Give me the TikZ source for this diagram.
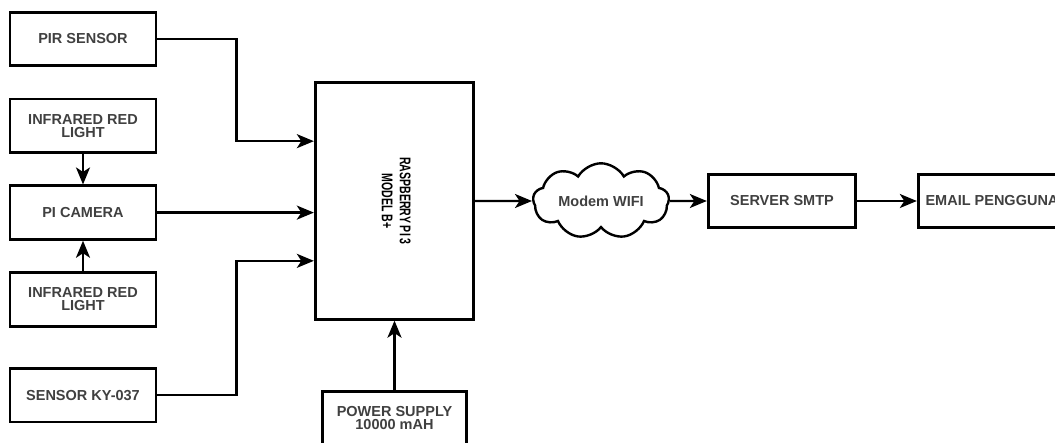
\documentclass[tikz,border=0pt]{standalone}
\usepackage{fontspec}
\setmainfont{Liberation Sans}
\usepackage{graphicx}
\usetikzlibrary{arrows.meta,positioning,calc,shapes.symbols}
\definecolor{rpiText}{HTML}{404040}

\begin{document}
\begin{tikzpicture}[x=1pt,y=-1pt,
   blok/.style={draw=black,fill=white,line width=2.8pt,minimum width=146pt,
               minimum height=53.5pt,inner sep=2pt,align=center,
               font=\fontsize{14.5}{13}\selectfont\bfseries,text=rpiText},
   awan/.style={cloud,cloud puffs=9,cloud puff arc=120,draw=black,fill=white,
               line width=2.4pt,minimum width=136pt,minimum height=62pt,
               aspect=2.2,inner sep=0pt,
               font=\fontsize{14.5}{13}\selectfont\bfseries,text=rpiText},
   conn/.style={line width=2.3pt,-{Stealth[length=17pt,width=14pt,inset=4.5pt]}}]
  \useasboundingbox (0,0) rectangle (1055,442);
  % sensor side
  \node[blok] (pir) at (83,39) {PIR SENSOR};
  \node[blok,below=30.5pt of pir] (ir1) {INFRARED RED\\LIGHT};
  \node[blok,below=30.5pt of ir1] (cam) {PI CAMERA};
  \node[blok,below=30.5pt of cam] (ir2) {INFRARED RED\\LIGHT};
  \node[blok,below=39.5pt of ir2] (ky) {SENSOR KY-037};
  % controller
  \node[blok,minimum width=158.5pt,minimum height=236.5pt] (rpi) at (394.5,201)
    {\rotatebox{-90}{\scalebox{0.68}[1]{\fontsize{15.5}{18}\selectfont\mdseries\color{black}
      \begin{tabular}{@{}c@{}}\textbf{RASPBERRY PI 3}\\\textbf{MODEL B+}\end{tabular}}}};
  \node[blok,minimum width=144.5pt] (pwr) at (394.5,418) {POWER SUPPLY\\10000 mAH};
  % output chain
  \node[awan] (wifi) at (601,201) {Modem WIFI};
  \node[blok,minimum width=147.5pt] (smtp) at (782,201) {SERVER SMTP};
  \node[blok,minimum width=147.5pt] (mail) at (992,201) {EMAIL PENGGUNA};

  \draw[conn] (pir.east) -- ++(79,0) |- ($(rpi.north west)!.25!(rpi.south west)$);
  \draw[conn] (cam.east) -- (cam.east -| rpi.west);
  \draw[conn] (ky.east) -- ++(79,0) |- ($(rpi.north west)!.75!(rpi.south west)$);
  \draw[conn] (ir1.south) -- (cam.north);
  \draw[conn] (ir2.north) -- (cam.south);
  \draw[conn] (pwr.north) -- (rpi.south);
  \draw[conn] (rpi.east) -- (wifi.west);
  \draw[conn] (wifi.east) -- (smtp.west);
  \draw[conn] (smtp.east) -- (mail.west);
\end{tikzpicture}
\end{document}
